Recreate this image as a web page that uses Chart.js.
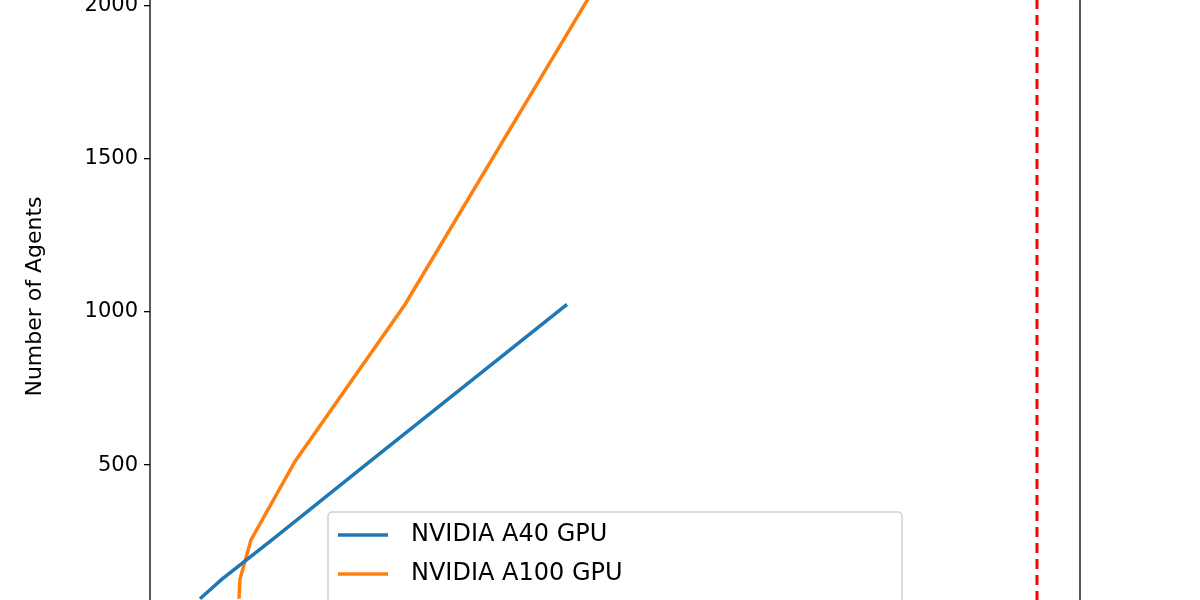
<!DOCTYPE html>
<html><head><script src="https://cdn.jsdelivr.net/npm/chart.js"></script>
<style>html,body{margin:0;padding:0;overflow:hidden;background:#fff}#wrap{position:absolute;top:-100px;left:0;width:1200px;height:800px}</style>
</head><body><div id="wrap"><canvas id="c" width="1200" height="800"></canvas></div>
<script>
const agents = [64, 128, 256, 512, 1024, 2048];
const a40X = [50, 72, 122, 220, 417];
const a100X = [89, 90, 101, 145, 255, 443];
const limitX = 887;
const yTicks = [0, 500, 1000, 1500, 2000];
const labels = ['NVIDIA A40 GPU', 'NVIDIA A100 GPU'];

const frame = {id:'frame', afterDraw(ch){const a=ch.chartArea,c=ch.ctx;c.save();c.strokeStyle='#000';c.lineWidth=1.3;c.strokeRect(a.left,a.top,a.right-a.left,a.bottom-a.top);
 const x=328,y=612,w=574,h=140;c.fillStyle='rgba(255,255,255,0.9)';c.strokeStyle='#d0d0d0';c.lineWidth=1.5;
 c.beginPath();c.roundRect(x,y,w,h,4);c.fill();c.stroke();
 const cols=['#1f77b4','#ff7f0e'];c.font='24px "DejaVu Sans"';c.textBaseline='middle';
 labels.forEach((l,i)=>{const yy=y+23+i*39;c.strokeStyle=cols[i];c.lineWidth=3.5;c.beginPath();c.moveTo(x+10,yy);c.lineTo(x+60,yy);c.stroke();c.fillStyle='#000';c.fillText(l,x+83,yy);});
 c.restore();}};

new Chart(document.getElementById('c'),{type:'line',
data:{datasets:[
 {data:a40X.map((x,i)=>({x,y:agents[i]})),borderColor:'#1f77b4',borderWidth:3.5,pointRadius:0},
 {data:a100X.map((x,i)=>({x,y:agents[i]})),borderColor:'#ff7f0e',borderWidth:3.5,pointRadius:0},
 {data:[{x:limitX,y:-100},{x:limitX,y:2200}],borderColor:'#ff0000',borderWidth:3,borderDash:[10,6],pointRadius:0}
]},
options:{responsive:false,animation:false,
 layout:{padding:{top:44,right:120,bottom:51,left:22}},
 plugins:{legend:{display:false},tooltip:{enabled:false}},
 scales:{
  x:{type:'linear',min:0,max:930,display:false},
  y:{type:'linear',min:-100,max:2200,
   afterFit(s){s.width=128;},
   afterBuildTicks(s){s.ticks=yTicks.map(v=>({value:v}));},
   grid:{drawOnChartArea:false,tickLength:6,color:'#000',lineWidth:1.3},
   border:{display:false},
   ticks:{color:'#000',font:{family:'DejaVu Sans',size:21},padding:6,callback:v=>String(v)},
   title:{display:true,text:'Number of Agents',color:'#000',font:{family:'DejaVu Sans',size:22},padding:0}
  }}},
plugins:[frame]});
</script></body></html>
